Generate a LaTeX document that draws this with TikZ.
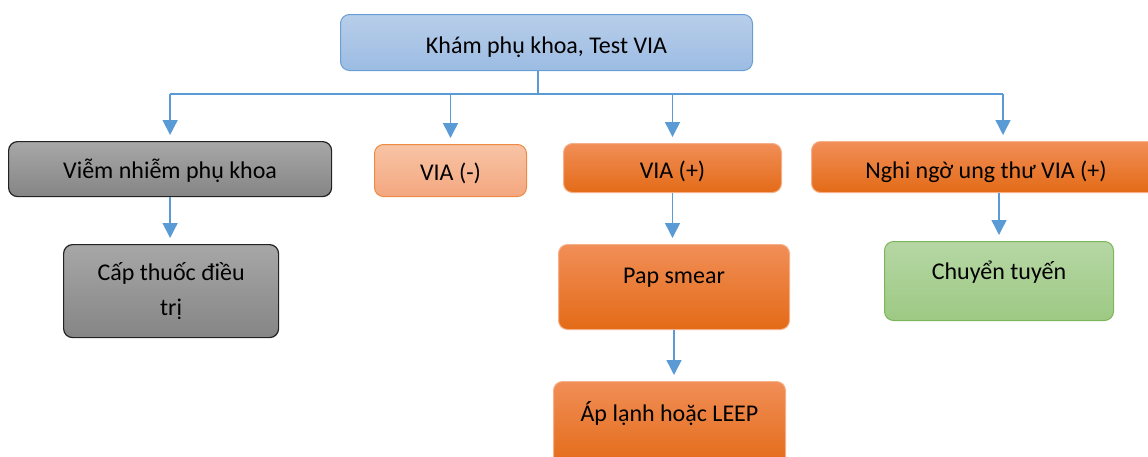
\documentclass[tikz,border=0pt]{standalone}
\usepackage{fontspec}
\setmainfont{Carlito}
\usetikzlibrary{arrows.meta,shadings}
\definecolor{conncol}{HTML}{5B9BD5}
\definecolor{bluetop}{HTML}{B8CEEA}
\definecolor{bluebot}{HTML}{9CBCE3}
\definecolor{blueedge}{HTML}{6A9FD6}
\definecolor{graytop}{HTML}{A7A7A7}
\definecolor{graybot}{HTML}{858585}
\definecolor{grayedge}{HTML}{222222}
\definecolor{saltop}{HTML}{F8C4A5}
\definecolor{salbot}{HTML}{F4A77F}
\definecolor{saledge}{HTML}{EE8A44}
\definecolor{ortop}{HTML}{F18E57}
\definecolor{ormid}{HTML}{F47B20}
\definecolor{orbot}{HTML}{E36B17}
\definecolor{oredge}{HTML}{F5B08A}
\definecolor{grtop}{HTML}{B6D7A4}
\definecolor{grbot}{HTML}{9DC984}
\definecolor{gredge}{HTML}{7DB55B}
\tikzset{
  box/.style={rectangle, rounded corners=9pt, line width=1pt, inner xsep=0pt, inner ysep=0pt,
    anchor=north west, align=center, font=\fontsize{24}{35}\selectfont},
  bluebox/.style={box, draw=blueedge, top color=bluetop, bottom color=bluebot},
  graybox/.style={box, draw=grayedge, line width=1.2pt, top color=graytop, bottom color=graybot},
  salbox/.style={box, draw=saledge, top color=saltop, bottom color=salbot},
  orbox/.style={box, draw=oredge, top color=ortop, middle color=ormid, bottom color=orbot},
  grbox/.style={box, draw=gredge, top color=grtop, bottom color=grbot},
  conn/.style={draw=conncol, line width=1.5pt},
  arr/.style={conn, -{Triangle[length=15pt,width=15pt]}, shorten >=6pt}
}
\begin{document}
\begin{tikzpicture}[x=1pt,y=-1pt]
\useasboundingbox (0,0) rectangle (1148,456);
\clip (0,0) rectangle (1148,456);
% top
\node[bluebox, minimum width=412pt, text height=39pt, text depth=17pt] (top) at (340,14) {Khám phụ khoa, Test VIA};
% level 2
\node[graybox, minimum width=323pt, text height=37pt, text depth=18pt] (vn) at (8,141) {Viễm nhiễm phụ khoa};
\node[salbox, minimum width=152pt, text height=36pt, text depth=16pt] (vneg) at (374,144) {VIA (-)};
\node[orbox, minimum width=218pt, text height=35pt, text depth=14pt] (vpos) at (563,143) {VIA (+)};
\node[orbox, minimum width=349pt, text height=37pt, text depth=14pt] (ng) at (811,141) {Nghi ngờ ung thư VIA (+)};
% level 3
\node[graybox, minimum width=215pt, minimum height=93pt] (cap) at (63,244) {Cấp thuốc điều\\trị};
\node[orbox, minimum width=231pt, text height=39pt, text depth=46pt] (pap) at (558,244) {Pap smear};
\node[grbox, minimum width=229pt, text height=38pt, text depth=41pt] (ct) at (884,241) {Chuyển tuyến};
% level 4
\node[orbox, minimum width=232pt, text height=40pt, text depth=45pt] (ap) at (553,381) {Áp lạnh hoặc LEEP};
% connectors
\coordinate (hl) at (538,94);
\coordinate (d4) at (1003,94);
\draw[conn] (top.south -| hl) -- (hl);
\draw[conn] (vn.north |- hl) -- (d4);
\draw[arr] (vn.north |- hl) -- (vn.north);
\draw[arr] (vneg.north |- hl) -- (vneg.north);
\draw[arr] (vpos.north |- hl) -- (vpos.north);
\draw[arr] (d4) -- (d4 |- ng.north);
\draw[arr] (vn.south) -- (cap.north -| vn.south);
\draw[arr] (vpos.south) -- (pap.north -| vpos.south);
\draw[arr] (pap.south) -- (ap.north -| pap.south);
\draw[arr] (ct.north |- ng.south) -- (ct.north);
\end{tikzpicture}
\end{document}
